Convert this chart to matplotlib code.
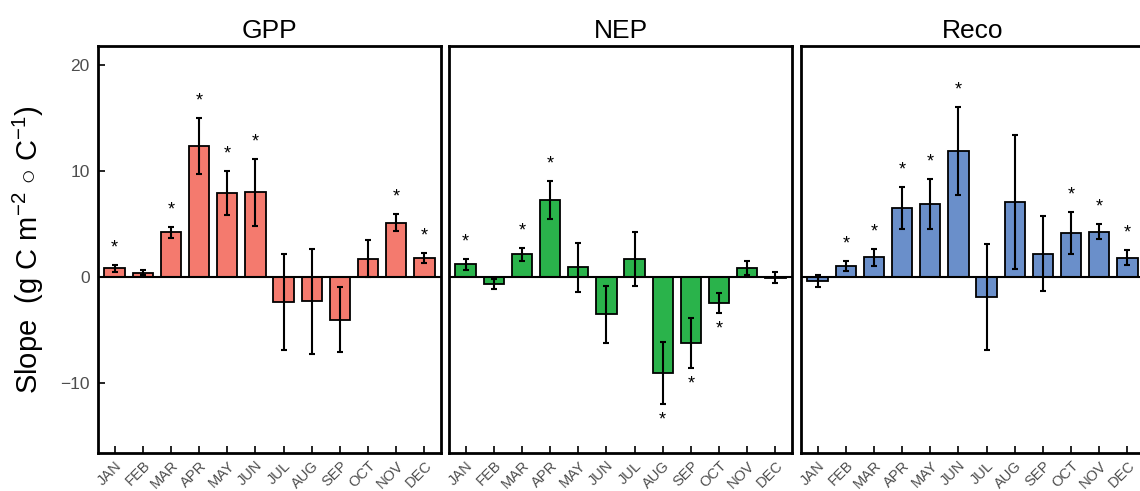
import numpy as np
import matplotlib.pyplot as plt

plt.rcParams["font.family"] = ["Liberation Sans", "DejaVu Sans"]
plt.rcParams["mathtext.fontset"] = "custom"
plt.rcParams["mathtext.rm"] = "Liberation Sans"
plt.rcParams["mathtext.it"] = "Liberation Sans:italic"

months = ["JAN", "FEB", "MAR", "APR", "MAY", "JUN",
          "JUL", "AUG", "SEP", "OCT", "NOV", "DEC"]

# slope, upper and lower error bar ends, significance
gpp = [0.82, 0.38, 4.21, 12.39, 7.92, 7.99, -2.36, -2.30, -4.03, 1.73, 5.13, 1.79]
gpp_hi = [1.13, 0.66, 4.69, 15.03, 9.97, 11.13, 2.20, 2.67, -0.94, 3.46, 5.91, 2.26]
gpp_lo = [0.47, 0.16, 3.71, 9.75, 5.82, 4.78, -6.86, -7.26, -7.08, 0.0, 4.34, 1.32]
gpp_sig = [1, 0, 1, 1, 1, 1, 0, 0, 0, 0, 1, 1]

nep = [1.19, -0.69, 2.17, 7.26, 0.91, -3.52, 1.73, -9.09, -6.19, -2.48, 0.82, -0.05]
nep_hi = [1.70, -0.16, 2.74, 9.03, 3.21, -0.88, 4.28, -6.13, -3.84, -1.51, 1.51, 0.50]
nep_lo = [0.63, -1.16, 1.54, 5.47, -1.38, -6.19, -0.85, -12.01, -8.58, -3.36, 0.16, -0.57]
nep_sig = [1, 0, 1, 1, 0, 0, 0, 1, 1, 1, 0, 0]

reco = [-0.41, 1.04, 1.89, 6.51, 6.89, 11.92, -1.89, 7.11, 2.20, 4.18, 4.28, 1.82]
reco_hi = [0.19, 1.51, 2.67, 8.49, 9.21, 16.07, 3.08, 13.40, 5.75, 6.13, 4.97, 2.55]
reco_lo = [-0.97, 0.57, 1.07, 4.50, 4.53, 7.70, -6.86, 0.72, -1.35, 2.17, 3.58, 1.10]
reco_sig = [0, 1, 1, 1, 1, 1, 0, 0, 0, 1, 1, 1]

panels = [
    ("GPP", gpp, gpp_hi, gpp_lo, gpp_sig, "#F47A6E"),
    ("NEP", nep, nep_hi, nep_lo, nep_sig, "#2AB34B"),
    ("Reco", reco, reco_hi, reco_lo, reco_sig, "#6A8FCA"),
]

fig = plt.figure(figsize=(11.4, 4.91), dpi=100)
lefts = [98, 449, 801]
x = np.arange(1, 13)

for i, (name, val, hi, lo, sig, color) in enumerate(panels):
    ax = fig.add_axes([lefts[i] / 1140, 38 / 491, 343 / 1140, 407 / 491])
    val = np.array(val)
    hi = np.array(hi)
    lo = np.array(lo)
    ax.bar(x, val, width=0.72, color=color, edgecolor="black", linewidth=1.3, zorder=2)
    ax.axhline(0, color="black", lw=1.5, zorder=3)
    ax.errorbar(x, val, yerr=[val - lo, hi - val], fmt="none", ecolor="black",
                elinewidth=1.5, capsize=2.5, capthick=1.5, zorder=4)
    for xi, v, h, l, s in zip(x, val, hi, lo, sig):
        if not s:
            continue
        if v >= 0:
            ax.text(xi, h + 1.6, "*", ha="center", va="center", fontsize=13)
        else:
            ax.text(xi, l - 1.5, "*", ha="center", va="center", fontsize=13)

    ax.set_xlim(0.41, 12.59)
    ax.set_ylim(-16.6, 21.8)
    ax.set_xticks(x)
    ax.set_xticklabels(months, rotation=45, ha="right", rotation_mode="anchor",
                       fontsize=10.5, color="#4D4D4D")
    ax.tick_params(axis="x", direction="in", length=5, width=1.2, pad=4)
    ax.set_yticks([-10, 0, 10, 20])
    if i == 0:
        ax.set_yticklabels(["\u221210", "0", "10", "20"], fontsize=12.5, color="#4D4D4D")
        ax.tick_params(axis="y", direction="in", length=5, width=1.2, pad=6)
        ax.set_ylabel("Slope  (g C m$^{-2}$ $\\circ$ C$^{-1}$)", fontsize=21, labelpad=10)
    else:
        ax.tick_params(axis="y", left=False, labelleft=False)
    for sp in ax.spines.values():
        sp.set_linewidth(2)
    ax.set_title(name, fontsize=19, pad=6)

fig.savefig("out.png", dpi=100)
